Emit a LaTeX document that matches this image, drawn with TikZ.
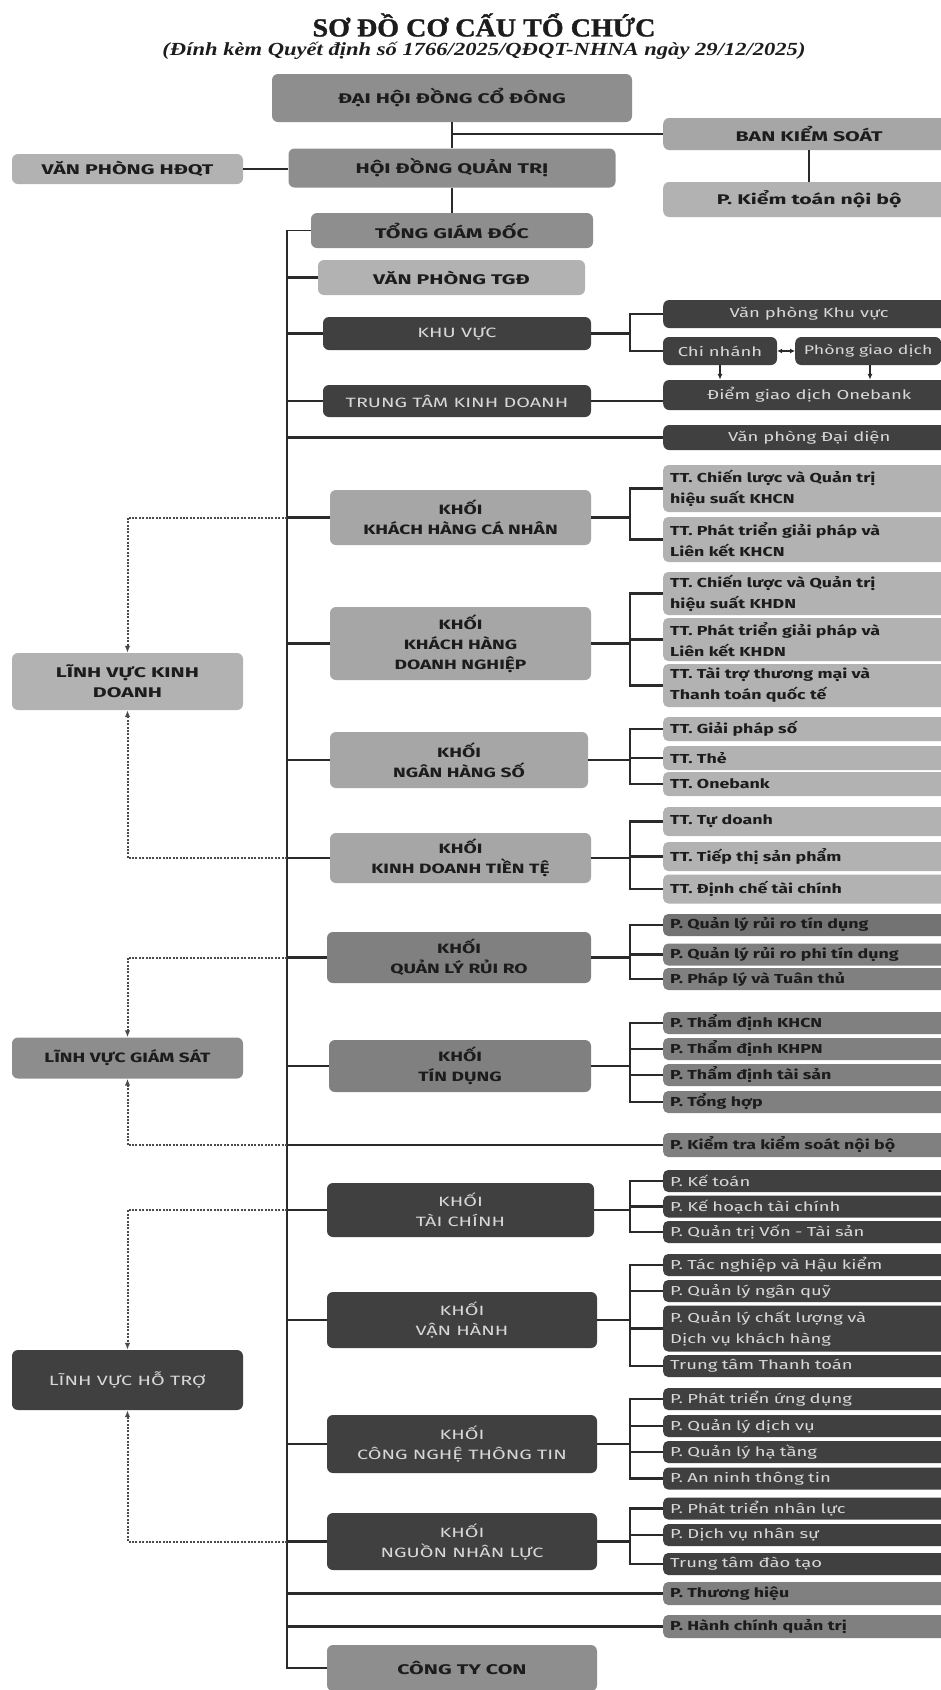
\documentclass[tikz,border=0pt]{standalone}
\usepackage{fontspec}
\setmainfont{Fira Sans}
\newfontfamily\fTitle[FakeStretch=1.08,FakeBold=1.2]{Liberation Serif}
\newfontfamily\fSub[FakeStretch=1.22]{Liberation Serif}
\newfontfamily\fTop[FakeStretch=1.52]{Fira Sans}
\newfontfamily\fKhoi[FakeStretch=1.42]{Fira Sans}
\newfontfamily\fDark[FakeStretch=1.47]{Fira Sans}
\newfontfamily\fChild[FakeStretch=1.37]{Fira Sans}
\newfontfamily\fDChild[FakeStretch=1.42]{Fira Sans}
\usetikzlibrary{arrows.meta,calc}
\definecolor{cA}{HTML}{8E8E8E}
\definecolor{cB}{HTML}{A6A6A6}
\definecolor{cL}{HTML}{B2B2B2}
\definecolor{cD}{HTML}{404040}
\definecolor{cM}{HTML}{808080}
\definecolor{ln}{HTML}{2A2A2A}
\definecolor{tx}{HTML}{1C1C1C}
\definecolor{tw}{HTML}{D8D8D8}
\tikzset{
  box/.style={rounded corners=6pt, inner sep=0pt, align=center, text=tx,
    font=\fKhoi\bfseries\fontsize{13.5}{20}\selectfont},
  topbox/.style={box, font=\fTop\bfseries\fontsize{14}{20}\selectfont},
  dbox/.style={box, fill=cD, text=tw, font=\fDark\fontsize{13.5}{20}\selectfont},
  kvbox/.style={dbox, font=\fDChild\fontsize{13}{20}\selectfont},
  child/.style={rounded corners=5pt, anchor=west, minimum width=292pt, text width=278pt,
    inner xsep=7pt, inner ysep=0pt, align=left, text=tx,
    font=\fChild\bfseries\fontsize{13}{21}\selectfont},
  dchild/.style={child, fill=cD, text=tw, font=\fDChild\fontsize{13}{21}\selectfont},
  conn/.style={draw=ln, line width=2.4pt},
  spine/.style={draw=ln, line width=1.8pt},
  dots/.style={draw=ln!85, line width=2pt, dash pattern=on 2pt off 1.4pt,
    -{Latex[length=7pt,width=5.5pt]}},
  tip/.style={draw=ln, line width=1.6pt, -{Latex[length=6pt,width=5pt]}},
}
\newcommand\mybranch[2]{\foreach \c in {#2}{\draw[conn] (#1.east) -- (#1.east -| bx) |- (\c.west);}}
\begin{document}
\begin{tikzpicture}[x=1pt,y=-1pt]
\fill[white] (0,0) rectangle (941,1690);
\useasboundingbox (0,0) rectangle (941,1690);
\coordinate (sp) at (287,0);
\coordinate (bx) at (630,0);
\coordinate (px) at (870,0);

% titles
\node[font=\fTitle\bfseries\fontsize{26}{28}\selectfont, text=tx] (title) at (484,25) {SƠ ĐỒ CƠ CẤU TỔ CHỨC};
\node[font=\fSub\bfseries\itshape\fontsize{18.5}{20}\selectfont, text=tx] (sub) at (484,51) {(Đính kèm Quyết định số 1766/2025/QĐQT-NHNA ngày 29/12/2025)};

% top
\node[topbox, fill=cA, minimum width=360pt, minimum height=48pt] (dhcd) at (452,98) {ĐẠI HỘI ĐỒNG CỔ ĐÔNG};
\node[topbox, fill=cB, minimum width=292pt, minimum height=32pt, anchor=west] (bks) at (663,134) {BAN KIỂM SOÁT};
\node[topbox, fill=cL, minimum width=292pt, minimum height=35pt, anchor=west] (ktnb) at (663,199.5) {P. Kiểm toán nội bộ};
\node[topbox, fill=cA, minimum width=327pt, minimum height=39pt] (hdqt) at (452,168) {HỘI ĐỒNG QUẢN TRỊ};
\node[topbox, fill=cL, minimum width=231pt, minimum height=30pt] (vphdqt) at (127.5,169) {VĂN PHÒNG HĐQT};
\node[topbox, fill=cA, minimum width=282pt, minimum height=35pt] (tgd) at (452,230.5) {TỔNG GIÁM ĐỐC};
\node[topbox, fill=cL, minimum width=267pt, minimum height=35pt] (vptgd) at (451.5,277.5) {VĂN PHÒNG TGĐ};

\draw[conn] (dhcd.south) -- (hdqt.north);
\draw[conn] (hdqt.south) -- (tgd.north);
\draw[conn] (dhcd.south |- bks.west) -- (bks.west);
\draw[conn] (bks.south) -- (ktnb.north);
\draw[conn] (vphdqt.east) -- (vphdqt.east -| hdqt.west);

% khu vuc
\node[dbox, minimum width=268pt, minimum height=33pt] (kv) at (457,333.5) {KHU VỰC};
\node[kvbox, minimum width=292pt, minimum height=28pt, anchor=west] (vpkv) at (663,314) {Văn phòng Khu vực};
\node[kvbox, minimum width=114pt, minimum height=28pt] (cn) at (720,351) {Chi nhánh};
\node[kvbox, minimum width=146pt, minimum height=28pt, anchor=west, font=\fDChild\fontsize{12.5}{20}\selectfont] (pgd) at (795,351) {Phòng giao dịch};
\node[kvbox, minimum width=292pt, minimum height=30pt, anchor=west] (dgd) at (663,395) {Điểm giao dịch Onebank};
\node[dbox, minimum width=268pt, minimum height=32pt] (ttkd) at (457,401) {TRUNG TÂM KINH DOANH};
\node[kvbox, minimum width=292pt, minimum height=25pt, anchor=west] (vpdd) at (663,437.5) {Văn phòng Đại diện};
\foreach \c in {vpkv,cn}{\draw[conn] (kv.east) -- (kv.east -| bx) |- (\c.west);}
\draw[tip, {Latex[length=5pt,width=5pt]}-{Latex[length=5pt,width=5pt]}] (cn.east) -- (pgd.west);
\draw[tip] (cn.south) -- (cn.south |- dgd.north);
\draw[tip] (pgd.south -| px) -- (dgd.north -| px);
\draw[conn] (ttkd.east) -- (ttkd.east -| dgd.west);

% khoi KHCN
\node[box, fill=cB, minimum width=261pt, minimum height=55pt] (khcn) at (460.5,517.5) {KHỐI\\KHÁCH HÀNG CÁ NHÂN};
\node[child, fill=cL, minimum height=47pt] (c1a) at (663,488.5) {TT. Chiến lược và Quản trị\\hiệu suất KHCN};
\node[child, fill=cL, minimum height=45pt] (c1b) at (663,539.5) {TT. Phát triển giải pháp và\\Liên kết KHCN};
\mybranch{khcn}{c1a,c1b}

\node[box, fill=cB, minimum width=261pt, minimum height=73pt] (khdn) at (460.5,643.5) {KHỐI\\KHÁCH HÀNG\\DOANH NGHIỆP};
\node[child, fill=cL, minimum height=43pt] (c2a) at (663,593.5) {TT. Chiến lược và Quản trị\\hiệu suất KHDN};
\node[child, fill=cL, minimum height=43pt] (c2b) at (663,639.5) {TT. Phát triển giải pháp và\\Liên kết KHDN};
\node[child, fill=cL, minimum height=43pt] (c2c) at (663,685.5) {TT. Tài trợ thương mại và\\Thanh toán quốc tế};
\mybranch{khdn}{c2a,c2b,c2c}

\node[topbox, fill=cL, minimum width=231pt, minimum height=57pt] (lvkd) at (127.5,681.5) {LĨNH VỰC KINH\\DOANH};

\node[box, fill=cB, minimum width=258pt, minimum height=56pt] (nhs) at (459,760) {KHỐI\\NGÂN HÀNG SỐ};
\node[child, fill=cL, minimum height=24pt] (c3a) at (663,729) {TT. Giải pháp số};
\node[child, fill=cL, minimum height=24pt] (c3b) at (663,758) {TT. Thẻ};
\node[child, fill=cL, minimum height=24pt] (c3c) at (663,784) {TT. Onebank};
\mybranch{nhs}{c3a,c3b,c3c}

\node[box, fill=cB, minimum width=261pt, minimum height=50pt] (kdtt) at (460.5,858) {KHỐI\\KINH DOANH TIỀN TỆ};
\node[child, fill=cL, minimum height=29pt] (c4a) at (663,821.5) {TT. Tự doanh};
\node[child, fill=cL, minimum height=29pt] (c4b) at (663,856.5) {TT. Tiếp thị sản phẩm};
\node[child, fill=cL, minimum height=29pt] (c4c) at (663,889) {TT. Định chế tài chính};
\mybranch{kdtt}{c4a,c4b,c4c}

% giam sat
\node[box, fill=cM, minimum width=264pt, minimum height=51pt] (qlrr) at (459,957.5) {KHỐI\\QUẢN LÝ RỦI RO};
\node[child, fill=cM!90!black, minimum height=22pt] (c5a) at (663,925) {P. Quản lý rủi ro tín dụng};
\node[child, fill=cM, minimum height=22pt] (c5b) at (663,954.5) {P. Quản lý rủi ro phi tín dụng};
\node[child, fill=cM, minimum height=22pt] (c5c) at (663,979) {P. Pháp lý và Tuân thủ};
\mybranch{qlrr}{c5a,c5b,c5c}

\node[topbox, fill=cM!90!white, minimum width=231pt, minimum height=41pt, font=\fKhoi\bfseries\fontsize{13.5}{20}\selectfont] (lvgs) at (127.5,1058) {LĨNH VỰC GIÁM SÁT};

\node[box, fill=cM, minimum width=262pt, minimum height=52pt] (td) at (460,1066) {KHỐI\\TÍN DỤNG};
\node[child, fill=cM, minimum height=22pt] (c6a) at (663,1023) {P. Thẩm định KHCN};
\node[child, fill=cM, minimum height=22pt] (c6b) at (663,1049) {P. Thẩm định KHPN};
\node[child, fill=cM, minimum height=22pt] (c6c) at (663,1075) {P. Thẩm định tài sản};
\node[child, fill=cM, minimum height=22pt] (c6d) at (663,1102) {P. Tổng hợp};
\mybranch{td}{c6a,c6b,c6c,c6d}

\node[child, fill=cM, minimum height=24pt] (ktks) at (663,1145) {P. Kiểm tra kiểm soát nội bộ};

% ho tro
\node[dbox, minimum width=267pt, minimum height=54pt] (tc) at (460.5,1210) {KHỐI\\TÀI CHÍNH};
\node[dchild, minimum height=22pt] (c7a) at (663,1181) {P. Kế toán};
\node[dchild, minimum height=22pt] (c7b) at (663,1206.5) {P. Kế hoạch tài chính};
\node[dchild, minimum height=22pt] (c7c) at (663,1232) {P. Quản trị Vốn - Tài sản};
\mybranch{tc}{c7a,c7b,c7c}

\node[dbox, minimum width=270pt, minimum height=56pt] (vh) at (462,1320) {KHỐI\\VẬN HÀNH};
\node[dchild, minimum height=22pt] (c8a) at (663,1265) {P. Tác nghiệp và Hậu kiểm};
\node[dchild, minimum height=22pt] (c8b) at (663,1291) {P. Quản lý ngân quỹ};
\node[dchild, minimum height=46pt] (c8c) at (663,1328.5) {P. Quản lý chất lượng và\\Dịch vụ khách hàng};
\node[dchild, minimum height=22pt] (c8d) at (663,1366) {Trung tâm Thanh toán};
\mybranch{vh}{c8a,c8b,c8c,c8d}

\node[dbox, minimum width=231pt, minimum height=60pt] (lvht) at (127.5,1380) {LĨNH VỰC HỖ TRỢ};

\node[dbox, minimum width=270pt, minimum height=58pt] (cntt) at (462,1444) {KHỐI\\CÔNG NGHỆ THÔNG TIN};
\node[dchild, minimum height=22pt] (c9a) at (663,1399) {P. Phát triển ứng dụng};
\node[dchild, minimum height=22pt] (c9b) at (663,1426) {P. Quản lý dịch vụ};
\node[dchild, minimum height=22pt] (c9c) at (663,1452) {P. Quản lý hạ tầng};
\node[dchild, minimum height=22pt] (c9d) at (663,1478.5) {P. An ninh thông tin};
\mybranch{cntt}{c9a,c9b,c9c,c9d}

\node[dbox, minimum width=270pt, minimum height=57pt] (nnl) at (462,1541.5) {KHỐI\\NGUỒN NHÂN LỰC};
\node[dchild, minimum height=22pt] (c10a) at (663,1508.5) {P. Phát triển nhân lực};
\node[dchild, minimum height=22pt] (c10b) at (663,1535) {P. Dịch vụ nhân sự};
\node[dchild, minimum height=22pt] (c10c) at (663,1564) {Trung tâm đào tạo};
\mybranch{nnl}{c10a,c10b,c10c}

\node[child, fill=cM, minimum height=23pt] (pth) at (663,1593.5) {P. Thương hiệu};
\node[child, fill=cM, minimum height=23pt] (phc) at (663,1626.5) {P. Hành chính quản trị};
\node[topbox, fill=cA, minimum width=270pt, minimum height=46pt] (ctc) at (462,1668) {CÔNG TY CON};

% spine
\draw[spine] (tgd.west) -- (tgd.west -| sp) -- (ctc.west -| sp) -- (ctc.west);
\foreach \b in {vptgd,kv,ttkd,khcn,khdn,nhs,kdtt,qlrr,td,tc,vh,cntt,nnl}{\draw[conn] (\b.west -| sp) -- (\b.west);}
\foreach \b in {vpdd,ktks,pth,phc}{\draw[conn] (\b.west -| sp) -- (\b.west);}

% dotted links to linh vuc
\draw[dots] (khcn.west -| sp) -| (lvkd.north);
\draw[dots] (kdtt.west -| sp) -| (lvkd.south);
\draw[dots] (qlrr.west -| sp) -| (lvgs.north);
\draw[dots] (ktks.west -| sp) -| (lvgs.south);
\draw[dots] (tc.west -| sp) -| (lvht.north);
\draw[dots] (nnl.west -| sp) -| (lvht.south);
\end{tikzpicture}
\end{document}
